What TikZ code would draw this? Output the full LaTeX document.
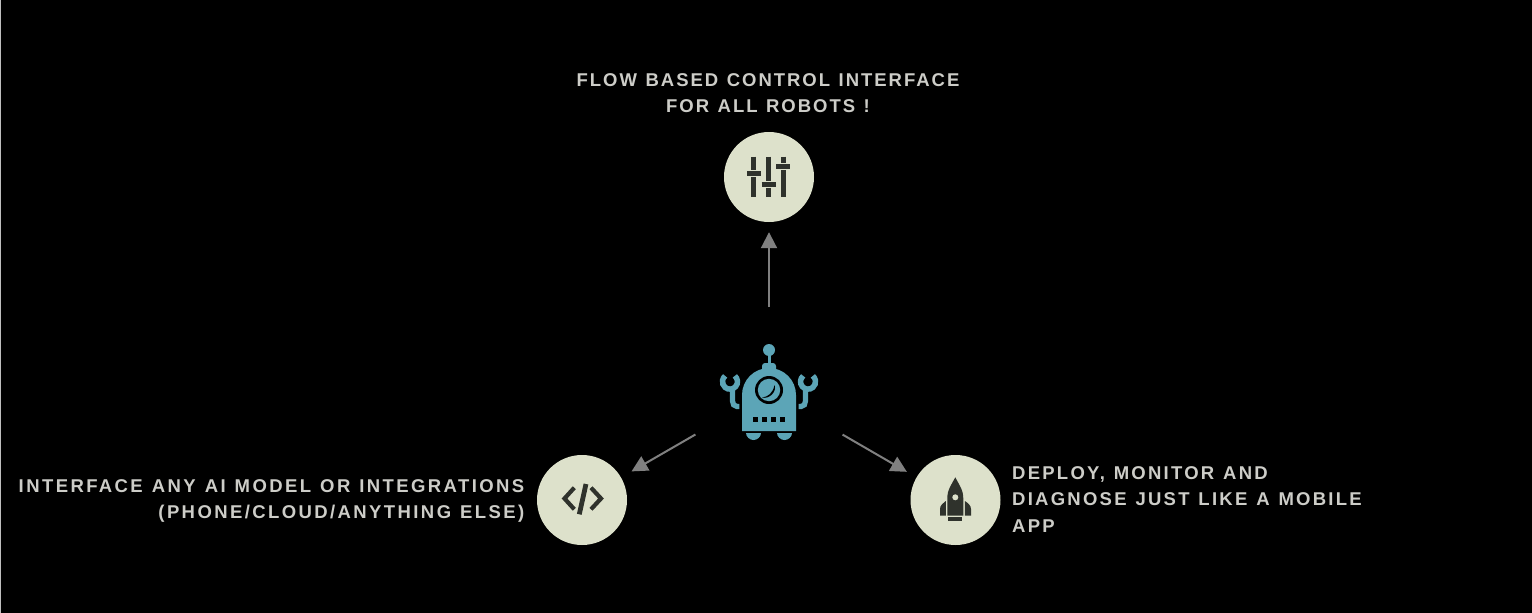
\documentclass[tikz,border=0pt]{standalone}
\usepackage{fontspec}
\setmainfont{Liberation Sans}
\newfontfamily\LabelFont[LetterSpace=12.2,WordSpace=1.2]{Liberation Sans}
\newfontfamily\LeftLabelFont[LetterSpace=13,WordSpace=1.2]{Liberation Sans}
\newfontfamily\TopLabelFont[LetterSpace=10.7,WordSpace=1.2]{Liberation Sans}
\usetikzlibrary{arrows.meta}
\definecolor{ColDisc}{RGB}{221,225,203}
\definecolor{ColIcon}{RGB}{47,50,44}
\definecolor{ColRobot}{RGB}{92,165,183}
\definecolor{ColText}{RGB}{205,205,200}
\definecolor{ColArrow}{RGB}{128,128,128}
\tikzstyle{NodeDisc}=[circle,fill=ColDisc,inner sep=0pt,minimum size=90pt]
\tikzstyle{NodeRobot}=[circle,inner sep=0pt,outer sep=0pt,minimum size=170pt]
\tikzstyle{EdgeArrow}=[ColArrow,line width=2pt,-{Triangle[length=16pt,width=16pt]}]
\tikzstyle{NodeLabel}=[text=ColText,font=\LabelFont\bfseries\fontsize{18.5}{26.5}\selectfont,inner sep=0pt]
\tikzstyle{TopLabel}=[NodeLabel,font=\TopLabelFont\bfseries\fontsize{18.5}{26.5}\selectfont]
\tikzstyle{LeftLabel}=[NodeLabel,font=\LeftLabelFont\bfseries\fontsize{18.5}{26.5}\selectfont]
\tikzstyle{IconLine}=[ColIcon,line width=4.8pt]
\begin{document}
\begin{tikzpicture}[x=1pt,y=-1pt]
        \useasboundingbox(0,0)rectangle(1532,613);
        \fill[black](-3,-3)rectangle(1535,616);
        \draw[white!75!black,line width=1pt](.5,-3)--(.5,616);
        % nodes
        \node[NodeRobot](robot)at(769,392){};
        \node[NodeDisc](ctrl)at(769,177){};
        \node[NodeDisc](code)at(582,500){};
        \node[NodeDisc](rocket)at(955.5,500){};
        % arrows
        \draw[EdgeArrow,shorten >=10pt](robot)--(ctrl);
        \draw[EdgeArrow,shorten >=12pt](robot)--(code);
        \draw[EdgeArrow,shorten >=11pt](robot)--(rocket);
        % labels
        \node[TopLabel,align=center,anchor=south](ctrltext)at(768,113.2){FLOW BASED CONTROL INTERFACE\\FOR ALL ROBOTS !};
        \node[LeftLabel,align=right,anchor=east](codetext)at(524.5,501){INTERFACE ANY AI MODEL OR INTEGRATIONS\\(PHONE/CLOUD/ANYTHING ELSE)};
        \node[NodeLabel,align=left,anchor=west](rockettext)at(1012,499.5){DEPLOY, MONITOR AND\\DIAGNOSE JUST LIKE A MOBILE\\APP};
        % slider icon
        \draw[IconLine](753.8,156.7)--(753.8,170)(753.8,177)--(753.8,196.7);
        \draw[IconLine](768.8,156.7)--(768.8,181)(768.8,188.3)--(768.8,196.7);
        \draw[IconLine](783.2,156.7)--(783.2,163)(783.2,170)--(783.2,196.7);
        \draw[IconLine](747,173.5)--(761,173.5);
        \draw[IconLine](761.7,184.5)--(775.7,184.5);
        \draw[IconLine](776.3,166.3)--(790,166.3);
        % code icon
        \draw[IconLine,line width=4.2pt,miter limit=10](574.3,487.7)--(564.5,498.5)--(574.3,509.3);
        \draw[IconLine,line width=4.2pt,miter limit=10](591,487.7)--(601,498.5)--(591,509.3);
        \draw[IconLine](586,484)--(579.3,514.3);
        % rocket icon
        \fill[ColIcon](955.3,477.3)--(960,486)..controls(962.5,491)and(963.3,494)..(963.3,499)--(963.3,515.7)--(947.3,515.7)--(947.3,499)..controls(947.3,494)and(948,491)..(950.5,486)--cycle;
        \fill[ColDisc](955.3,497.3)circle(3pt);
        \fill[ColIcon](945.8,501)--(945.8,515.7)--(940,515.7)--(940,509)..controls(940,505.5)and(943,503)..(945.8,501)--cycle;
        \fill[ColIcon](964.8,501)--(964.8,515.7)--(971,515.7)--(971,509)..controls(971,505.5)and(968,503)..(964.8,501)--cycle;
        \fill[ColIcon](948.3,517.3)rectangle(962,520.7);
        % robot icon
        \fill[ColRobot](769,350)circle(6pt);
        \fill[ColRobot](767.5,352)rectangle(770.5,366);
        \fill[ColRobot](762,371)--(762,366)arc[start angle=180,end angle=90,radius=3pt]--(773,363)arc[start angle=90,end angle=0,radius=3pt]--(776,371)--cycle;
        \fill[ColRobot](742,431)--(742,395)arc[start angle=180,end angle=0,radius=27pt]--(796,431)--cycle;
        \fill[black](769,390)circle(14pt);
        \fill[ColRobot](769,390)circle(11.2pt);
        \fill[black](762,397.5)..controls(768,397)and(773,393)..(774.5,385)..controls(777,391)and(770,399.5)..(762,397.5)--cycle;
        \foreach \x in {753.3,762.3,771,780}
            \fill[black](\x,417.3)rectangle(\x+5,422.3);
        \fill[ColRobot](746,433)--(761,433)..controls(761,437)and(757,440)..(753.5,440)..controls(750,440)and(746,437)..(746,433)--cycle;
        \fill[ColRobot](777,433)--(792,433)..controls(792,437)and(788,440)..(784.5,440)..controls(781,440)and(777,437)..(777,433)--cycle;
        % arms
        \foreach \s in {-1,1}{
            \begin{scope}[shift={(769,0)},xscale=\s]
                \draw[ColRobot,line width=5.2pt](29.7,406.5)--(32,406.5)..controls(35,406.5)and(36.5,404)..(36.5,401)--(36.5,388);
                \draw[ColRobot,line width=5.5pt](34.2,375.9)arc[start angle=130,end angle=410,radius=7.5pt];
            \end{scope}
        }
    \end{tikzpicture}
\end{document}
